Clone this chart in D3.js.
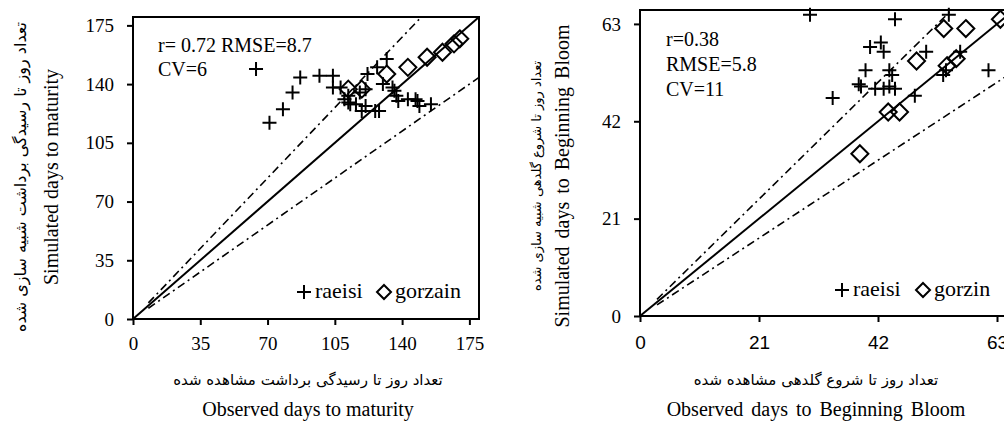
<!DOCTYPE html>
<html>
<head>
<meta charset="utf-8">
<script src="https://cdn.jsdelivr.net/npm/d3@7"></script>
<style>
    body { margin: 0; background: #fff; }
    svg { display: block; }
</style>
</head>
<body>
<div id="chart"></div>
<script>
    // ---- data ----
    var maturityTicks = [0, 35, 70, 105, 140, 175];
    var bloomTicks = [0, 21, 42, 63];

    // [observed, simulated]
    var raeisiMaturity = [
        [64, 149], [71, 117], [78, 125], [83, 135], [87, 144], [97, 145], [104, 145],
        [104, 138], [108, 138], [110, 131], [112, 133], [112, 129], [113, 128], [116, 128],
        [118, 135], [119, 124], [121, 137], [121, 127], [122, 146], [126, 124], [128, 124],
        [127, 150], [130, 140], [132, 155], [135, 138], [136, 136], [137, 133], [138, 130],
        [143, 131], [147, 131], [148, 130], [149, 127], [155, 128]
    ];
    var gorzainMaturity = [
        [112, 137], [119, 137], [132, 146], [143, 150], [153, 156], [161, 159], [167, 164], [170, 167]
    ];

    var raeisiBloom = [
        [30, 65], [45, 64], [54.5, 65], [40.6, 58], [42.5, 59], [43, 57], [50.5, 57], [56.5, 57],
        [39.8, 53], [44, 53], [44.5, 52], [54, 53], [53.5, 52], [61.5, 53], [34, 47],
        [38.6, 50], [39, 49.5], [41.5, 49], [43, 49], [44, 49.5], [45, 49], [48.5, 47.5]
    ];
    var gorzinBloom = [
        [38.8, 35], [43.8, 44], [45.8, 44], [48.8, 55], [53.6, 62], [57.5, 62], [54.2, 54],
        [55.8, 55.5], [63.6, 64]
    ];

    var maturityStats = ['r= 0.72 RMSE=8.7', 'CV=6'];
    var bloomStats = ['r=0.38', 'RMSE=5.8', 'CV=11'];

    var SERIF = '"Liberation Serif", "Times New Roman", serif';
    var SANS = '"Liberation Sans", Arial, sans-serif';
    var FARSI = '"DejaVu Sans", sans-serif';

    var svg = d3.select('#chart').append('svg')
        .attr('width', 1004)
        .attr('height', 423);

    /**
     * Draws one observed-vs-simulated panel.
     */
    function drawPanel(cfg) {
        var x = d3.scaleLinear().domain([0, cfg.max]).range([cfg.left, cfg.right]);
        var y = d3.scaleLinear().domain([0, cfg.max]).range([cfg.bottom, cfg.top]);

        var g = svg.append('g');

        // 1:1 line and the +/- bands
        var line = d3.line()
            .x(function(d) { return x(d[0]); })
            .y(function(d) { return y(d[1]); });

        g.append('path')
            .attr('d', line([[0, 0], [cfg.max, cfg.max]]))
            .attr('stroke', '#000').attr('stroke-width', 2).attr('fill', 'none');

        [cfg.upper, cfg.lower].forEach(function(k) {
            var x1 = Math.min(cfg.max, cfg.max / k);
            g.append('path')
                .attr('d', line([[cfg.bandStart, cfg.bandStart * k], [x1, x1 * k]]))
                .attr('stroke', '#000').attr('stroke-width', 1.6).attr('fill', 'none')
                .attr('stroke-dasharray', '8,4,2,4');
        });

        // markers
        g.selectAll('path.cross').data(cfg.crosses).enter().append('path')
            .attr('class', 'cross')
            .attr('transform', function(d) { return 'translate(' + x(d[0]) + ',' + y(d[1]) + ')'; })
            .attr('d', 'M-7,0H7M0,-7V7')
            .attr('stroke', '#000').attr('stroke-width', 2).attr('fill', 'none');

        g.selectAll('path.diamond').data(cfg.diamonds).enter().append('path')
            .attr('class', 'diamond')
            .attr('transform', function(d) { return 'translate(' + x(d[0]) + ',' + y(d[1]) + ')'; })
            .attr('d', 'M0,-8.5L8.5,0L0,8.5L-8.5,0Z')
            .attr('stroke', '#000').attr('stroke-width', 2).attr('fill', 'none');

        // frame
        g.append('rect')
            .attr('x', cfg.left).attr('y', cfg.top)
            .attr('width', cfg.right - cfg.left).attr('height', cfg.bottom - cfg.top)
            .attr('fill', 'none').attr('stroke', '#000').attr('stroke-width', 2);

        // axes
        var xAxis = g.append('g')
            .attr('transform', 'translate(0,' + cfg.bottom + ')')
            .call(d3.axisBottom(x).tickValues(cfg.ticks).tickSize(6).tickSizeOuter(0).tickPadding(cfg.xPad));
        var yAxis = g.append('g')
            .attr('transform', 'translate(' + cfg.left + ',0)')
            .call(d3.axisLeft(y).tickValues(cfg.ticks).tickSize(6).tickSizeOuter(0).tickPadding(13));

        xAxis.select('.domain').remove();
        yAxis.select('.domain').remove();
        xAxis.selectAll('line').attr('stroke-width', 2);
        yAxis.selectAll('line').attr('stroke-width', 2);
        xAxis.selectAll('text').style('font-family', cfg.xFont).style('font-size', '19px').attr('fill', '#000');
        yAxis.selectAll('text').style('font-family', SERIF).style('font-size', '19px').attr('fill', '#000');

        // stats text
        g.selectAll('text.stat').data(cfg.stats).enter().append('text')
            .attr('class', 'stat')
            .attr('x', cfg.statX)
            .attr('y', function(d, i) { return cfg.statY + i * cfg.statGap; })
            .style('font-family', SERIF).style('font-size', '20px')
            .text(function(d) { return d; });

        // legend
        var lg = g.append('g').attr('transform', 'translate(' + cfg.legendX + ',' + cfg.legendY + ')');
        lg.append('path').attr('d', 'M-7,0H7M0,-7V7')
            .attr('transform', 'translate(0,-6)')
            .attr('stroke', '#000').attr('stroke-width', 2);
        lg.append('text').attr('x', 11).style('font-family', SERIF).style('font-size', '22px').text('raeisi');
        lg.append('path').attr('d', 'M0,-7L7,0L0,7L-7,0Z')
            .attr('transform', 'translate(' + cfg.legendGap + ',-6)')
            .attr('stroke', '#000').attr('stroke-width', 2).attr('fill', 'none');
        lg.append('text').attr('x', cfg.legendGap + 11).style('font-family', SERIF).style('font-size', '22px')
            .text(cfg.secondName);

        // axis titles
        g.append('text')
            .attr('x', cfg.xTitleX).attr('y', 385)
            .attr('text-anchor', 'middle').style('font-family', FARSI).style('font-size', cfg.faX + 'px')
            .text(cfg.xFarsi);
        g.append('text')
            .attr('x', cfg.xTitleX).attr('y', 416)
            .attr('text-anchor', 'middle').style('font-family', SERIF).style('font-size', '20px')
            .attr('word-spacing', cfg.wordSpacing)
            .text(cfg.xTitle);
        g.append('text')
            .attr('transform', 'translate(' + cfg.yFarsiX + ',' + cfg.yTitleY + ') rotate(-90)')
            .attr('text-anchor', 'middle').style('font-family', FARSI).style('font-size', cfg.faY + 'px')
            .text(cfg.yFarsi);
        g.append('text')
            .attr('transform', 'translate(' + cfg.yTitleX + ',' + cfg.yTitleY + ') rotate(-90)')
            .attr('text-anchor', 'middle').style('font-family', SERIF).style('font-size', '20px')
            .attr('word-spacing', cfg.wordSpacing)
            .text(cfg.yTitle);
    }

    drawPanel({
        max: 180, left: 133, right: 479, top: 17, bottom: 319,
        ticks: maturityTicks, xFont: SERIF, xPad: 12,
        upper: 1.2, lower: 0.8, bandStart: 8,
        crosses: raeisiMaturity, diamonds: gorzainMaturity,
        stats: maturityStats, statX: 158, statY: 52, statGap: 24,
        legendX: 304, legendY: 298, legendGap: 80, secondName: 'gorzain',
        xTitleX: 308, xFarsi: 'تعداد روز تا رسیدگی برداشت مشاهده شده', faX: 15,
        xTitle: 'Observed days to maturity',
        yFarsiX: 26, yTitleX: 58, yTitleY: 177, faY: 16,
        yFarsi: 'تعداد روز تا رسیدگی برداشت شبیه سازی شده',
        yTitle: 'Simulated days to maturity', wordSpacing: 0
    });

    drawPanel({
        max: 66, left: 640, right: 1014, top: 10, bottom: 316,
        ticks: bloomTicks, xFont: SANS, xPad: 14,
        upper: 1.2, lower: 0.8, bandStart: 3,
        crosses: raeisiBloom, diamonds: gorzinBloom,
        stats: bloomStats, statX: 666, statY: 46, statGap: 25,
        legendX: 842, legendY: 296, legendGap: 81, secondName: 'gorzin',
        xTitleX: 816, xFarsi: 'تعداد روز تا شروع گلدهی مشاهده شده', faX: 15,
        xTitle: 'Observed days to Beginning Bloom',
        yFarsiX: 541, yTitleX: 569, yTitleY: 176, faY: 13,
        yFarsi: 'تعداد روز تا شروع گلدهی شبیه سازی شده',
        yTitle: 'Simulated days to Beginning Bloom', wordSpacing: 3
    });
</script>
</body>
</html>
